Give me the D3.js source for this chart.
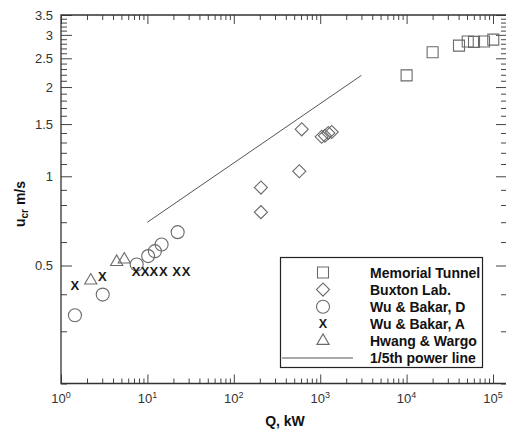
<!DOCTYPE html>
<html>
<head>
<meta charset="utf-8">
<script src="https://cdn.jsdelivr.net/npm/d3@7"></script>
<style>
  body { margin: 0; background: #fff; }
  svg { display: block; font-family: "Liberation Sans", Arial, sans-serif; }
</style>
</head>
<body>
<div id="chart-area"></div>
<script>
// values
const memorialQ = [10000, 20000, 40400, 51000, 60300, 78700, 100700];
const memorialU = [2.19, 2.62, 2.76, 2.85, 2.84, 2.85, 2.89];
const buxtonQ = [206, 206, 573, 611, 1040, 1136, 1241, 1360];
const buxtonU = [0.757, 0.916, 1.04, 1.44, 1.36, 1.37, 1.40, 1.41];
const wuDQ = [1.45, 3.04, 7.52, 10.2, 12.2, 14.6, 22.4];
const wuDU = [0.340, 0.399, 0.504, 0.538, 0.559, 0.589, 0.648];
const wuAQ = [1.45, 3.0, 7.38, 9.38, 11.9, 15.3, 21.8, 28.0];
const wuAU = [0.429, 0.458, 0.479, 0.479, 0.479, 0.479, 0.479, 0.479];
const hwangQ = [2.21, 4.41, 5.40];
const hwangU = [0.445, 0.514, 0.524];
const powerQ = [10, 3000];
const powerU = [0.70, 2.19];

const legendLabels = ["Memorial Tunnel", "Buxton Lab.", "Wu & Bakar, D", "Wu & Bakar, A", "Hwang & Wargo", "1/5th power line"];
const xTickExps = [0, 1, 2, 3, 4, 5];
const yTickValues = [0.5, 1, 1.5, 2, 2.5, 3, 3.5];
const yTickLabels = ["0.5", "1", "1.5", "2", "2.5", "3", "3.5"];
const xLabel = "Q, kW";

const drawChart = () => {
  const chartSize = { width: 506, height: 430 };
  const plot = { left: 61, right: 507, top: 15, bottom: 383.5 };

  const x = d3.scaleLog().domain([1, 1.452e5]).range([plot.left, plot.right]);
  const y = d3.scaleLog().domain([0.2, 3.5]).range([plot.bottom, plot.top]);

  const svg = d3.select("#chart-area")
    .append("svg")
    .attr("width", chartSize.width)
    .attr("height", chartSize.height);

  const xMajor = xTickExps.map(e => Math.pow(10, e));
  const xMinor = [];
  xTickExps.forEach(e => d3.range(2, 10).forEach(m => {
    const v = m * Math.pow(10, e);
    if (v < x.domain()[1]) xMinor.push(v);
  }));
  const yMinor = d3.range(2, 35).map(v => v / 10)
    .filter(v => !yTickValues.some(t => Math.abs(t - v) < 1e-6));

  const tickColor = "#444";
  const styleAxis = g => {
    g.select(".domain").remove();
    g.selectAll("line").attr("stroke", tickColor).attr("stroke-width", 1);
  };

  // bottom / top ticks
  [[d3.axisBottom, plot.bottom], [d3.axisTop, plot.top]].forEach(([ax, pos]) => {
    svg.append("g").attr("transform", `translate(0,${pos})`)
      .call(ax(x).tickValues(xMinor).tickSize(-5).tickFormat(""))
      .call(styleAxis);
    svg.append("g").attr("transform", `translate(0,${pos})`)
      .call(ax(x).tickValues(xMajor).tickSize(-9).tickFormat(""))
      .call(styleAxis);
  });

  // left / right ticks
  [[d3.axisLeft, plot.left], [d3.axisRight, plot.right]].forEach(([ax, pos]) => {
    svg.append("g").attr("transform", `translate(${pos},0)`)
      .call(ax(y).tickValues(yMinor).tickSize(-6).tickFormat(""))
      .call(styleAxis);
  });
  svg.append("g").attr("transform", `translate(${plot.right},0)`)
    .call(d3.axisRight(y).tickValues(yTickValues).tickSize(-11).tickFormat(""))
    .call(styleAxis);

  const yAxis = svg.append("g")
    .attr("transform", `translate(${plot.left},0)`)
    .call(d3.axisLeft(y).tickValues(yTickValues).tickSize(-11).tickPadding(8)
      .tickFormat((d, i) => yTickLabels[i]))
    .call(styleAxis);
  yAxis.selectAll("text")
    .attr("font-size", 13)
    .attr("font-family", "Liberation Sans, Arial, sans-serif")
    .attr("fill", "#333");

  // frame
  svg.append("path")
    .attr("d", `M${plot.right},${plot.top}H${plot.left}V${plot.bottom}H${plot.right}V${plot.top}`)
    .attr("fill", "none")
    .attr("stroke", "#333")
    .attr("stroke-width", 1.3);

  // x tick labels, 10^n
  const xLab = svg.append("g").selectAll("text").data(xTickExps).enter()
    .append("text")
    .attr("x", e => x(Math.pow(10, e)))
    .attr("y", 403)
    .attr("text-anchor", "middle")
    .attr("font-size", 13)
    .attr("fill", "#333");
  xLab.append("tspan").text("10");
  xLab.append("tspan").attr("dy", -5).attr("font-size", 9).text(e => e);

  svg.append("text")
    .attr("x", 285)
    .attr("y", 426)
    .attr("text-anchor", "middle")
    .attr("font-size", 14)
    .attr("font-weight", "bold")
    .attr("fill", "#111")
    .text(xLabel);

  const yl = svg.append("text")
    .attr("transform", "translate(25,204) rotate(-90)")
    .attr("text-anchor", "middle")
    .attr("font-size", 14)
    .attr("font-weight", "bold")
    .attr("fill", "#111");
  yl.append("tspan").text("u");
  yl.append("tspan").attr("font-size", 10).attr("dy", 3).text("cr");
  yl.append("tspan").attr("dy", -3).text(" m/s");

  // 1/5th power line
  svg.append("path")
    .datum(d3.zip(powerQ, powerU))
    .attr("d", d3.line().x(d => x(d[0])).y(d => y(d[1])))
    .attr("fill", "none")
    .attr("stroke", "#555")
    .attr("stroke-width", 1);

  const markColor = "#6a6a6a";
  const sqPath = d3.symbol().type(d3.symbolSquare).size(121)();
  const diaPath = d3.symbol().type(d3.symbolSquare).size(85)();
  const triPath = d3.symbol().type(d3.symbolTriangle).size(64)();

  const markStyle = sel => sel.attr("fill", "none").attr("stroke", markColor).attr("stroke-width", 1.1);

  svg.append("g").selectAll("path").data(d3.zip(memorialQ, memorialU)).enter()
    .append("path").attr("d", sqPath)
    .attr("transform", d => `translate(${x(d[0])},${y(d[1])})`)
    .call(markStyle);

  svg.append("g").selectAll("path").data(d3.zip(buxtonQ, buxtonU)).enter()
    .append("path").attr("d", diaPath)
    .attr("transform", d => `translate(${x(d[0])},${y(d[1])}) rotate(45)`)
    .call(markStyle);

  svg.append("g").selectAll("circle").data(d3.zip(wuDQ, wuDU)).enter()
    .append("circle").attr("r", 6.5)
    .attr("cx", d => x(d[0])).attr("cy", d => y(d[1]))
    .call(markStyle);

  svg.append("g").selectAll("path").data(d3.zip(hwangQ, hwangU)).enter()
    .append("path").attr("d", triPath)
    .attr("transform", d => `translate(${x(d[0])},${y(d[1])})`)
    .call(markStyle);

  svg.append("g").selectAll("text").data(d3.zip(wuAQ, wuAU)).enter()
    .append("text")
    .attr("x", d => x(d[0])).attr("y", d => y(d[1]))
    .attr("text-anchor", "middle")
    .attr("dominant-baseline", "central")
    .attr("font-size", 13)
    .attr("font-weight", "bold")
    .attr("fill", "#1a1a1a")
    .text("X");

  // legend
  const legend = svg.append("g");
  legend.append("rect")
    .attr("x", 280.5).attr("y", 257.5)
    .attr("width", 202).attr("height", 110)
    .attr("fill", "#fff")
    .attr("stroke", "#222")
    .attr("stroke-width", 1.2);

  const rowY = i => 272.5 + i * 17.1;
  const symX = 323;
  legend.append("path").attr("d", sqPath).attr("transform", `translate(${symX},${rowY(0)})`).call(markStyle);
  legend.append("path").attr("d", diaPath).attr("transform", `translate(${symX},${rowY(1)}) rotate(45)`).call(markStyle);
  legend.append("circle").attr("r", 6.5).attr("cx", symX).attr("cy", rowY(2)).call(markStyle);
  legend.append("text").attr("x", symX).attr("y", rowY(3))
    .attr("text-anchor", "middle").attr("dominant-baseline", "central")
    .attr("font-size", 12.5).attr("font-weight", "bold").attr("fill", "#1a1a1a").text("X");
  legend.append("path").attr("d", triPath).attr("transform", `translate(${symX},${rowY(4)})`).call(markStyle);
  legend.append("line")
    .attr("x1", 282).attr("x2", 353)
    .attr("y1", rowY(5)).attr("y2", rowY(5))
    .attr("stroke", "#555").attr("stroke-width", 1);

  legend.selectAll(".lab").data(legendLabels).enter()
    .append("text")
    .attr("class", "lab")
    .attr("x", 370)
    .attr("y", (d, i) => rowY(i))
    .attr("dominant-baseline", "central")
    .attr("font-size", 14)
    .attr("font-weight", "bold")
    .attr("fill", "#111")
    .text(d => d);
};

window.onload = drawChart;
</script>
</body>
</html>
